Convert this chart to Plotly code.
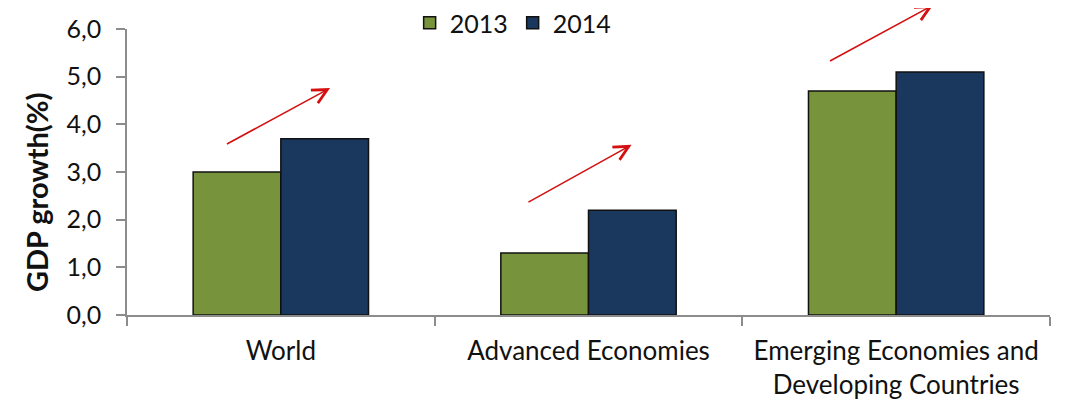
import plotly.graph_objects as go

categories = ["World", "Advanced Economies", "Emerging Economies and<br>Developing Countries"]
gdp_2013 = [3.0, 1.3, 4.7]
gdp_2014 = [3.7, 2.2, 5.1]
# arrow start/end y-values (growth trend indicators)
arrow_y_start = [3.57, 2.35, 5.31]
arrow_y_end = [4.76, 3.57, 6.5]
y_title = "GDP growth(%)"

font_family = "Lato, 'Open Sans', sans-serif"

fig = go.Figure()
fig.add_trace(go.Bar(name="2013", x=categories, y=gdp_2013, marker=dict(color="#77933C", line=dict(color="#111111", width=1.5))))
fig.add_trace(go.Bar(name="2014", x=categories, y=gdp_2014, marker=dict(color="#1A375E", line=dict(color="#111111", width=1.5))))

for i, c in enumerate(categories):
    fig.add_annotation(
        x=i + 0.16 - 0.02 * i, y=arrow_y_end[i], ax=i - 0.18 - 0.02 * i, ay=arrow_y_start[i],
        xref="x", yref="y", axref="x", ayref="y",
        showarrow=True, arrowhead=5, arrowsize=1.8, arrowwidth=1.6, arrowcolor="#D41010", text="",
    )

fig.add_annotation(
    text="<b>" + y_title + "</b>", textangle=-90, showarrow=False,
    xref="paper", yref="paper", x=-0.0986, y=0.43, xanchor="center", yanchor="middle",
    font=dict(size=29, color="#111111"),
)

fig.update_layout(
    width=1059, height=398,
    margin=dict(l=119, r=17, t=21, b=91, autoexpand=False),
    plot_bgcolor="white", paper_bgcolor="white",
    barmode="group", bargap=0.43, bargroupgap=0,
    separators=",.",
    font=dict(family=font_family, size=24, color="#111111"),
    legend=dict(orientation="h", x=0.477, xanchor="center", xref="container",
                y=0.962, yanchor="middle", yref="container",
                font=dict(size=25), itemwidth=30, traceorder="normal"),
    xaxis=dict(showline=True, linecolor="#8c8c8c", linewidth=1.5, ticks="outside",
               tickson="boundaries", ticklen=9, tickcolor="#8c8c8c", tickwidth=1.5,
               tickfont=dict(size=26), range=[-0.5, 2.5], automargin=False,
               ticklabelstandoff=12),
    yaxis=dict(range=[0, 6], dtick=1, tickformat=".1f", showgrid=False, zeroline=False,
               showline=True, linecolor="#8c8c8c", linewidth=1.5, ticks="outside",
               ticklen=9, tickcolor="#8c8c8c", tickwidth=1.5, tickfont=dict(size=25),
               automargin=False, ticklabelstandoff=10),
)

fig.write_html("out.html")
